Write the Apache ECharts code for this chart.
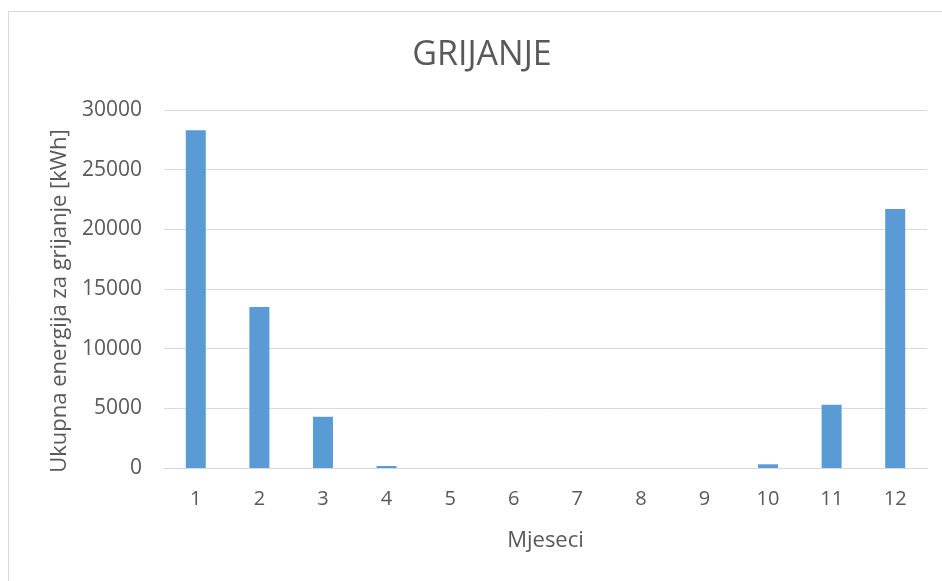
<!DOCTYPE html>
<html>
<head>
<meta charset="utf-8">
<script src="https://cdn.jsdelivr.net/npm/echarts@6/dist/echarts.min.js"></script>
<style>
  html, body { margin: 0; padding: 0; background: #fff; }
  #chartHeat { width: 942px; height: 581px; }
</style>
</head>
<body>
<div id="chartHeat"></div>
<script>
// mjeseci
const months = ['1', '2', '3', '4', '5', '6', '7', '8', '9', '10', '11', '12'];
// ukupna energija za grijanje [kWh]
const heating = [28300, 13500, 4300, 170, 0, 0, 0, 0, 0, 310, 5300, 21700];
const yTicks = [0, 5000, 10000, 15000, 20000, 25000, 30000];

const chartHeat = echarts.init(document.getElementById('chartHeat'));
const textColor = '#595959';
const fontFamily = 'Open Sans';

let option = {
  animation: false,
  textStyle: { fontFamily: fontFamily },
  graphic: [
    {
      type: 'rect',
      shape: { x: 8.5, y: 11.5, width: 1000, height: 1000 },
      style: { fill: 'none', stroke: '#d9d9d9', lineWidth: 1 },
      silent: true
    }
  ],
  title: {
    text: 'GRIJANJE',
    left: 477,
    top: 33,
    textAlign: 'center',
    textStyle: {
      color: textColor,
      fontSize: 34,
      fontWeight: 'normal',
      fontFamily: fontFamily
    }
  },
  grid: {
    left: 164,
    right: 15,
    top: 110,
    bottom: 113
  },
  xAxis: {
    type: 'category',
    data: months,
    name: 'Mjeseci',
    nameLocation: 'middle',
    nameGap: 62,
    nameTextStyle: { color: textColor, fontSize: 22 },
    axisLine: { lineStyle: { color: '#d9d9d9', width: 1 } },
    axisTick: { show: false },
    axisLabel: { color: textColor, fontSize: 20, margin: 21 }
  },
  yAxis: {
    type: 'value',
    min: yTicks[0],
    max: yTicks[yTicks.length - 1],
    interval: 5000,
    name: 'Ukupna energija za grijanje [kWh]',
    nameLocation: 'middle',
    nameGap: 92,
    nameTextStyle: { color: textColor, fontSize: 22, padding: [0, 24, 0, 0] },
    axisLine: { show: false },
    axisTick: { show: false },
    axisLabel: {
      color: textColor,
      fontSize: 21,
      margin: 22,
      formatter: function (v) { return String(v); }
    },
    splitLine: { lineStyle: { color: '#d9d9d9', width: 1 } }
  },
  series: [
    {
      name: 'Grijanje',
      type: 'bar',
      data: heating,
      barWidth: 20,
      itemStyle: { color: '#5b9bd5' }
    }
  ]
};
chartHeat.setOption(option);
</script>
</body>
</html>
